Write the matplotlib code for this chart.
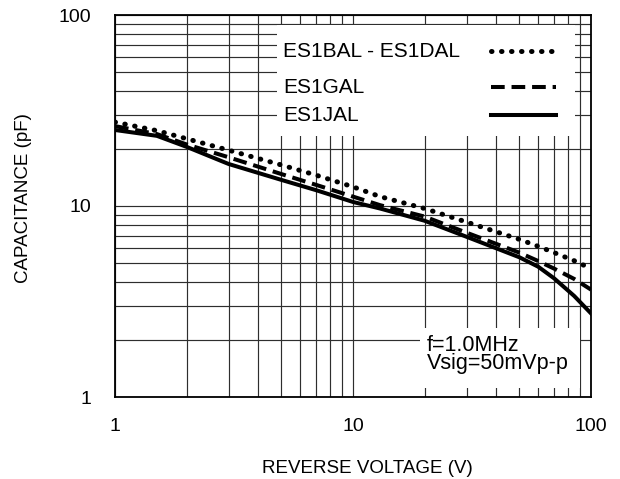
import matplotlib.pyplot as plt
from matplotlib.patches import Rectangle
from matplotlib.ticker import FixedLocator, FixedFormatter, NullFormatter

plt.rcParams['font.family'] = ['Liberation Sans', 'DejaVu Sans']

# reverse voltage (V)
volts = [1, 1.5, 2, 3, 5, 7, 10, 13, 20, 30, 50, 60, 70, 85, 100]
# capacitance (pF) per device group
cap_bal_dal = [27.5, 24.8, 22.5, 19.6, 16.4, 14.5, 12.6, 11.2, 9.7, 8.24, 6.69, 6.15, 5.7, 5.17, 4.7]
cap_gal = [26.2, 23.8, 21.0, 18.0, 14.7, 12.9, 11.2, 10.1, 8.8, 7.25, 5.7, 5.15, 4.7, 4.15, 3.65]
cap_jal = [25.0, 23.3, 20.4, 16.6, 13.7, 12.1, 10.5, 9.7, 8.37, 6.9, 5.39, 4.81, 4.18, 3.38, 2.74]

series_labels = ['ES1BAL - ES1DAL', 'ES1GAL', 'ES1JAL']
x_ticks = [1, 10, 100]
y_ticks = [1, 10, 100]
note_lines = ['f=1.0MHz', 'Vsig=50mVp-p']

fig = plt.figure(figsize=(6.2, 4.79), dpi=100)
ax = fig.add_axes([115 / 620, 82 / 479, 476 / 620, 382 / 479])
ax.set_xscale('log')
ax.set_yscale('log')
ax.set_xlim(1, 100)
ax.set_ylim(1, 100)

# full major + minor grid
ax.grid(True, which='both', color='#2e2e2e', linewidth=0.85)
ax.tick_params(which='both', length=0)
ax.tick_params(axis='x', pad=15, labelsize=14)
ax.tick_params(axis='y', pad=17, labelsize=14)
ax.xaxis.set_major_locator(FixedLocator(x_ticks))
ax.xaxis.set_major_formatter(FixedFormatter([str(v) for v in x_ticks]))
ax.xaxis.set_minor_formatter(NullFormatter())
ax.yaxis.set_major_locator(FixedLocator(y_ticks))
ax.yaxis.set_major_formatter(FixedFormatter([str(v) for v in y_ticks]))
ax.yaxis.set_minor_formatter(NullFormatter())
for s in ax.spines.values():
    s.set_linewidth(1.3)

styles = [
    dict(lw=3.6, linestyle=(0, (0.1, 1.9)), dash_capstyle='round'),
    dict(lw=2.9, linestyle=(0, (3.4, 1.7))),
    dict(lw=2.9, linestyle='-'),
]
for cap, st in zip([cap_bal_dal, cap_gal, cap_jal], styles):
    ax.plot(volts, cap, color='black', zorder=3, **st)

# white panels hiding the grid behind the key and the note
ax.add_patch(Rectangle((0.340, 0.683), 0.626, 0.291, transform=ax.transAxes,
                       facecolor='white', edgecolor='none', zorder=2))
ax.add_patch(Rectangle((0.640, 0.024), 0.337, 0.157, transform=ax.transAxes,
                       facecolor='white', edgecolor='none', zorder=2))

# key: label on the left, line sample on the right
key_text_y = [0.890, 0.796, 0.7225]
key_line_y = [0.906, 0.812, 0.738]
for lab, ty, ly, st in zip(series_labels, key_text_y, key_line_y, styles):
    ax.text(0.353, ty, lab, transform=ax.transAxes, fontsize=15, va='baseline', zorder=4)
    ax.plot([0.790, 0.926], [ly, ly], transform=ax.transAxes, color='black', zorder=4, **st)

ax.text(0.655, 0.121, note_lines[0], transform=ax.transAxes, fontsize=15.5, va='baseline', zorder=4)
ax.text(0.655, 0.073, note_lines[1], transform=ax.transAxes, fontsize=15.5, va='baseline', zorder=4)

ax.set_xlabel('REVERSE VOLTAGE (V)', fontsize=13.5)
ax.xaxis.set_label_coords(0.53, -0.165)
ax.set_ylabel('CAPACITANCE (pF)', fontsize=13.5)
ax.yaxis.set_label_coords(-0.175, 0.52)

fig.savefig('out.png', dpi=100)
